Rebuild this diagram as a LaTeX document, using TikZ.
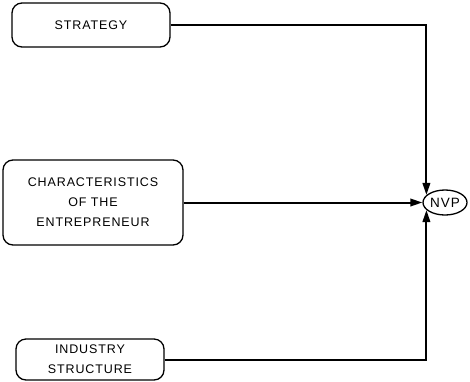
\documentclass[tikz,border=0pt]{standalone}
\usepackage{fontspec}
\setmainfont{Liberation Sans}[LetterSpace=7]
\usetikzlibrary{arrows.meta,calc,shapes.geometric}
\begin{document}
\begin{tikzpicture}[x=1pt,y=-1pt,
  box/.style={draw,line width=1.3pt,rounded corners=10pt,align=center,
    inner sep=0pt,font=\fontsize{12.5}{20}\selectfont},
  link/.style={line width=2pt},
  tip/.style={-{Triangle[length=12pt,width=7.5pt]}}]
\useasboundingbox (0,0) rectangle (470,381);
% factor boxes
\node[box,minimum width=158pt,minimum height=44pt] (strategy) at (91,25) {STRATEGY};
\node[box,minimum width=180pt,minimum height=85pt] (entre) at (93,202.5)
  {CHARACTERISTICS\\OF THE\\ENTREPRENEUR};
\node[box,minimum width=148pt,minimum height=41pt] (industry) at (90,359.5)
  {INDUSTRY\\STRUCTURE};
% outcome
\node[draw,ellipse,line width=1.3pt,minimum width=44pt,minimum height=25pt,
  inner sep=0pt,font=\fontsize{13.5}{14}\selectfont] (nvp) at (445,202.5) {NVP};
% connectors
\draw[link,tip] (strategy.east) -| (nvp.158);
\draw[link,tip] (entre.east) -- (nvp.west);
\draw[link,tip] (industry.east) -| (nvp.202);
\end{tikzpicture}
\end{document}
